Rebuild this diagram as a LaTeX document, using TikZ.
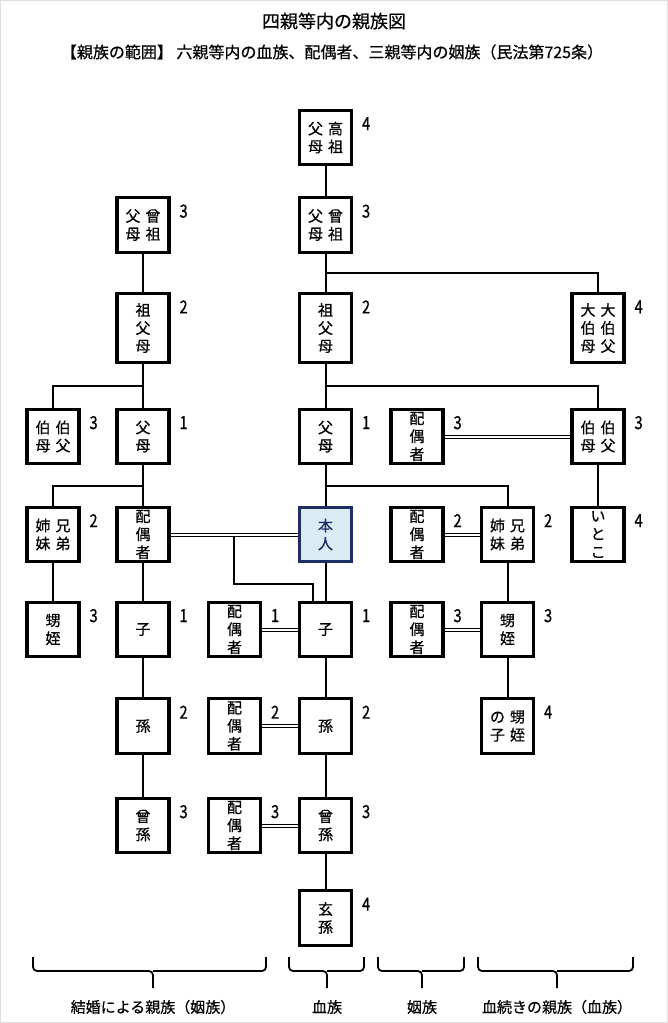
\documentclass[tikz,border=0pt]{standalone}
\usepackage{fontspec}
\setmainfont{Noto Sans CJK JP}[FakeBold=0.6]
\newfontfamily\degfont{Noto Sans CJK JP}[FakeStretch=0.82, FakeBold=0.6]
\usepackage{tikz}
\usetikzlibrary{positioning, calc, backgrounds}
\definecolor{selfnavy}{RGB}{28, 46, 100}
\definecolor{selffill}{RGB}{218, 235, 244}
\newcommand{\kg}{\hspace{5pt}}

\begin{document}
\begin{tikzpicture}[
  x=1pt, y=-1pt,
  every node/.style={font=\fontsize{15}{18}\selectfont},
  box/.style={
    draw, line width=3.2pt, fill=white,
    minimum width=52pt, minimum height=54.5pt,
    inner sep=0pt, align=center
  },
  tall/.style={minimum height=69pt},
  selfbox/.style={draw=selfnavy, fill=selffill, text=selfnavy},
  link/.style={line width=2pt},
  wed/.style={double, double distance=2pt, line width=1pt},
  deg/.style={font=\degfont\fontsize{18}{18}\selectfont},
  note/.style={font=\fontsize{15}{15}\selectfont},
  brc/.style={line width=1.8pt, rounded corners=4pt}
]
  \useasboundingbox (0,0) rectangle (668,1023);
  \draw[gray!25, line width=1pt] (0.5,0.5) rectangle (667.5,1022.5);

  % Titel
  \node[font=\fontsize{18}{18}\selectfont] (title) at (334,21) {四親等内の親族図};
  \node[font=\fontsize{16}{16}\selectfont] (sub) at (332,52) {【親族の範囲】 六親等内の血族、配偶者、三親等内の姻族（民法第725条）};

  % Vorfahren
  \node[box] (gg) at (325.5,137.5) {父\kg{}高\\母\kg{}祖};
  \node[box] (ga) at (143,225) {父\kg{}曾\\母\kg{}祖};
  \node[box] (gb) at (325.5,225) {父\kg{}曾\\母\kg{}祖};
  \node[box, tall] (pa) at (143,328) {祖\\父\\母};
  \node[box, tall] (pb) at (325.5,328) {祖\\父\\母};
  \node[box, tall] (ou) at (598,328) {大\kg{}大\\伯\kg{}伯\\母\kg{}父};

  % Elterngeneration
  \node[box] (au1) at (53,436.5) {伯\kg{}伯\\母\kg{}父};
  \node[box] (fa) at (143,436.5) {父\\母};
  \node[box] (fb) at (325.5,436.5) {父\\母};
  \node[box] (sp4) at (417,436.5) {配\\偶\\者};
  \node[box] (au2) at (598,436.5) {伯\kg{}伯\\母\kg{}父};

  % eigene Generation
  \node[box] (si1) at (53,534.5) {姉\kg{}兄\\妹\kg{}弟};
  \node[box] (sp0) at (143,534.5) {配\\偶\\者};
  \node[box, selfbox] (me) at (325.5,534.5) {本\\人};
  \node[box] (sp5) at (417,534.5) {配\\偶\\者};
  \node[box] (si2) at (507.5,534.5) {姉\kg{}兄\\妹\kg{}弟};
  \node[box] (co) at (598,534.5) {い\\と\\こ};

  % Nachkommen
  \node[box] (ne1) at (53,629.5) {甥\\姪};
  \node[box] (ch1) at (143,629.5) {子};
  \node[box] (sp6) at (234.5,629.5) {配\\偶\\者};
  \node[box] (ch2) at (325.5,629.5) {子};
  \node[box] (sp7) at (417,629.5) {配\\偶\\者};
  \node[box] (ne2) at (507.5,629.5) {甥\\姪};
  \node[box] (gc1) at (143,726) {孫};
  \node[box] (sp8) at (234.5,726) {配\\偶\\者};
  \node[box] (gc2) at (325.5,726) {孫};
  \node[box] (nc) at (507.5,726) {の\kg{}甥\\子\kg{}姪};
  \node[box] (ggc1) at (143,825.5) {曾\\孫};
  \node[box] (sp9) at (234.5,825.5) {配\\偶\\者};
  \node[box] (ggc2) at (325.5,825.5) {曾\\孫};
  \node[box] (gggc) at (325.5,918) {玄\\孫};

  % Grade
  \foreach \b/\d in {gg/4, ga/3, gb/3, pa/2, pb/2, ou/4, au1/3, fa/1, fb/1, sp4/3, au2/3,
      si1/2, sp5/2, si2/2, co/4, ne1/3, ch1/1, sp6/1, ch2/1, sp7/3, ne2/3,
      gc1/2, sp8/2, gc2/2, nc/4, ggc1/3, sp9/3, ggc2/3, gggc/4}
    \node[deg] (d-\b) at ($(\b.north east)+(13,15)$) {\d};

  \begin{scope}[on background layer]
    % Linien
    \draw[link] (gg) -- (gb) -- (pb) -- (fb) -- (me) -- (ch2) -- (gc2) -- (ggc2) -- (gggc);
    \draw[link] (ga) -- (pa) -- (fa) -- (sp0) -- (ch1) -- (gc1) -- (ggc1);
    \draw[link] ($(gb.south)!0.5!(pb.north)$) -| (ou.north);
    \draw[link] ($(pa.south)!0.5!(fa.north)$) -| (au1.north);
    \draw[link] ($(pb.south)!0.5!(fb.north)$) -| (au2.north);
    \draw[link] (au2) -- (co);
    \draw[link] ($(fa.south)!0.5!(sp0.north)$) -| (si1.north);
    \draw[link] ($(fb.south)!0.5!(me.north)$) -| (si2.north);
    \draw[link] (si1) -- (ne1);
    \draw[link] (si2) -- (ne2) -- (nc);
    \coordinate (kid) at ($(sp0)!0.5!(me)$);
    \draw[link] (kid) -- ++(0,49) -| ([xshift=-13pt]ch2.north);

    % Ehe
    \draw[wed] (sp0) -- (me);
    \draw[wed] (sp4) -- (au2);
    \draw[wed] (sp5) -- (si2);
    \draw[wed] (sp6) -- (ch2);
    \draw[wed] (sp7) -- (ne2);
    \draw[wed] (sp8) -- (gc2);
    \draw[wed] (sp9) -- (ggc2);
  \end{scope}

  % Klammern
  \foreach \a/\b/\c/\t [count=\i] in {33/266/153/結婚による親族（姻族）, 289/364/327/血族,
      378/464/422/姻族, 478/633/557/血続きの親族（血族）} {
    \draw[brc] (\a,957) |- (\c,971) -- (\c,988);
    \draw[brc] (\b,957) |- (\c,971);
    \node[note] (grp\i) at (\c,1007) {\t};
  }
\end{tikzpicture}
\end{document}
